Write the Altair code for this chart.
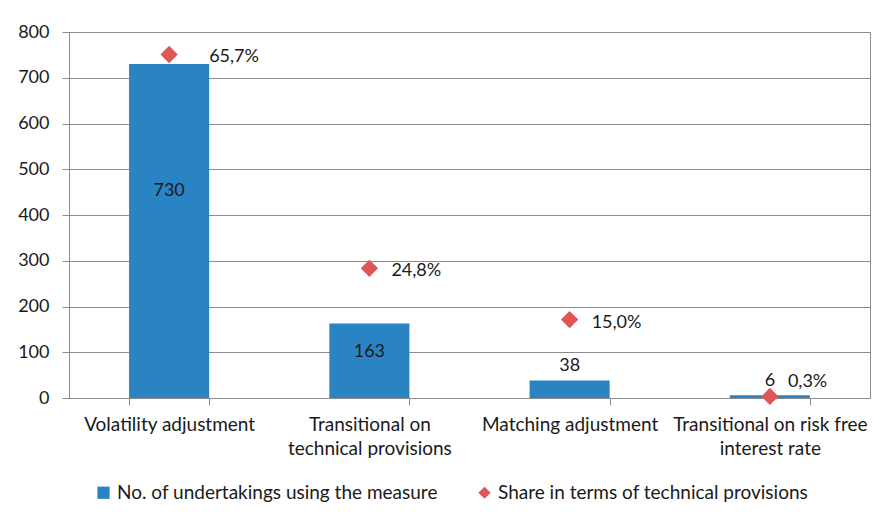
import altair as alt
import pandas as pd

categories = ["Volatility adjustment", "Transitional on technical provisions",
              "Matching adjustment", "Transitional on risk free interest rate"]
counts = [730, 163, 38, 6]
shares = [65.7, 24.8, 15.0, 0.3]
series_bar = "No. of undertakings using the measure"
series_pt = "Share in terms of technical provisions"

df = pd.DataFrame({"category": categories, "count": counts, "share": shares,
                   "series": [series_pt] * len(categories)})

FONT = "Lato"
BLUE = "#2a84c3"
RED = "#e05656"
GRID = "#8c8c8c"
FS = 19     # words
FN = 18     # numbers

label_expr = ("datum.label == 'Transitional on technical provisions' ? ['Transitional on', 'technical provisions'] : "
              "datum.label == 'Transitional on risk free interest rate' ? ['Transitional on risk free', 'interest rate'] : datum.label")

xenc = alt.X("category:N", sort=categories,
             scale=alt.Scale(paddingInner=0.6, paddingOuter=0.3),
             axis=alt.Axis(title=None, labelAngle=0, labelExpr=label_expr, labelLimit=0,
                           tickBand="extent", tickSize=7, tickColor=GRID, domainColor=GRID,
                           labelPadding=10, labelLineHeight=24, labelFontSize=FS,
                           labelFont=FONT, labelColor="#1a1a1a", labelBaseline="top"))

base = alt.Chart(df)

bars = base.mark_bar(color=BLUE).encode(
    x=xenc,
    y=alt.Y("count:Q", scale=alt.Scale(domain=[0, 800]),
            axis=alt.Axis(title=None, values=list(range(0, 801, 100)), grid=True, gridColor=GRID,
                          tickColor=GRID, domainColor=GRID, tickSize=7, labelPadding=13,
                          labelFontSize=FN, labelFont=FONT, labelColor="#1a1a1a")),
)

bar_labels = base.transform_calculate(
    label_y="datum.count > 100 ? datum.count * 0.62 : datum.count + 32"
).mark_text(font=FONT, fontSize=FN, color="#1a1a1a", baseline="middle").encode(
    x=alt.X("category:N", sort=categories),
    y=alt.Y("label_y:Q", scale=alt.Scale(domain=[0, 800]), axis=None),
    text=alt.Text("count:Q"),
)

pts = base.mark_point(filled=True, size=300, opacity=1).encode(
    x=alt.X("category:N", sort=categories),
    y=alt.Y("share:Q", scale=alt.Scale(domain=[0, 70]), axis=None),
    color=alt.Color("series:N", scale=alt.Scale(domain=[series_bar, series_pt], range=[BLUE, RED]),
                    legend=alt.Legend(title=None)),
    shape=alt.Shape("series:N", scale=alt.Scale(domain=[series_bar, series_pt], range=["square", "diamond"]),
                    legend=alt.Legend(title=None)),
)

pct_base = base.transform_calculate(
    pct="replace(format(datum.share, '.1f'), '.', ',') + '%'"
)


def pct_layer(cond, dx, dy):
    return pct_base.transform_filter(cond).mark_text(
        font=FONT, fontSize=FN, color="#1a1a1a", align="left", baseline="middle", dx=dx, dy=dy
    ).encode(
        x=alt.X("category:N", sort=categories),
        y=alt.Y("share:Q", scale=alt.Scale(domain=[0, 70]), axis=None),
        text="pct:N",
    )


pct_top = pct_layer("datum.share >= 50", 40, 3)
pct_mid = pct_layer("datum.share >= 1 && datum.share < 50", 22, 3)
pct_small = pct_layer("datum.share < 1", 18, -14)

chart = alt.layer(bars, bar_labels, pts, pct_top, pct_mid, pct_small).resolve_scale(
    y="independent"
).properties(
    width=801, height=366,
    autosize=alt.AutoSizeParams(type="none"),
    padding={"left": 61, "top": 24, "right": 12, "bottom": 110},
    background="white",
).configure_view(
    stroke=GRID, strokeWidth=1
).configure_legend(
    orient="none", legendX=25, legendY=451, direction="horizontal",
    labelFont=FONT, labelFontSize=FS, labelColor="#1a1a1a", labelLimit=0,
    symbolSize=150, symbolStrokeWidth=0, labelOffset=4, columnPadding=37,
)

chart.save("out.html", embed_options={"renderer": "svg", "actions": False})
